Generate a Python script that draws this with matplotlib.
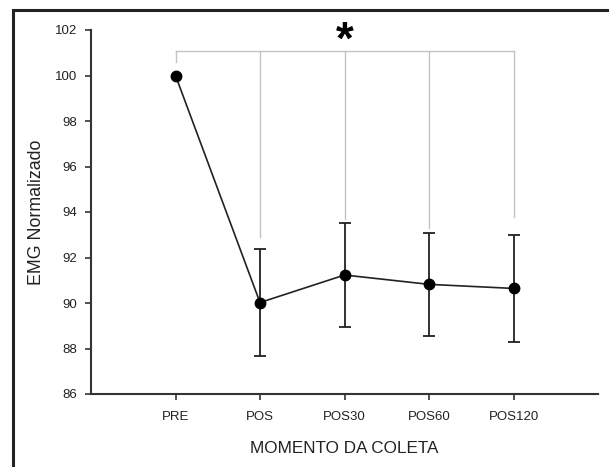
import matplotlib
matplotlib.use("Agg")
import matplotlib.pyplot as plt
from matplotlib.patches import Rectangle

categories = ["PRE", "POS", "POS30", "POS60", "POS120"]
means = [100.0, 90.02, 91.23, 90.82, 90.64]
errors = [0.0, 2.35, 2.28, 2.25, 2.36]
bracket_level = 101.08
bracket_ends = [100.6, 92.9, 93.7, 93.3, 93.8]
yticks = [86, 88, 90, 92, 94, 96, 98, 100, 102]

plt.rcParams['font.family'] = ['Liberation Sans', 'DejaVu Sans']

fig = plt.figure(figsize=(6.09, 4.67), dpi=100)
fig.patches.append(Rectangle((12.5/609, -0.1), 1.2, 1 - 10.0/467 + 0.1,
                             transform=fig.transFigure, fill=False,
                             edgecolor='#222222', linewidth=2.2, zorder=0))
ax = fig.add_axes([91/609, 1 - 394/467, (598 - 91)/609, (394 - 30)/467])

x = list(range(1, len(categories) + 1))

# significance bracket
gray = '#c4c4c4'
ax.plot([x[0], x[-1]], [bracket_level, bracket_level], color=gray, lw=1.0, zorder=1)
for xi, yend in zip(x, bracket_ends):
    ax.plot([xi, xi], [yend, bracket_level], color=gray, lw=1.0, zorder=1)
ax.text(x[2], 100.98, "*", ha='center', va='baseline', fontsize=33,
        fontweight='bold', color='black')

ax.errorbar(x[1:], means[1:], yerr=errors[1:], fmt='none', ecolor='#222222',
            elinewidth=1.3, capsize=4, capthick=1.3, zorder=2)
ax.plot(x, means, color='#222222', lw=1.2, marker='o', markersize=7.5,
        markerfacecolor='black', markeredgecolor='black', zorder=3)

ax.set_xlim(0, 6)
ax.set_ylim(86, 102)
ax.set_xticks(x)
ax.set_xticklabels(categories, fontsize=9.5, color='#222222')
ax.set_yticks(yticks)
ax.set_yticklabels([str(t) for t in yticks], fontsize=9.5, color='#222222')

for s in ['top', 'right']:
    ax.spines[s].set_visible(False)
for s in ['left', 'bottom']:
    ax.spines[s].set_linewidth(1.5)
    ax.spines[s].set_color('#333333')
ax.tick_params(axis='both', direction='out', length=4, width=1.2, color='#333333')
ax.tick_params(axis='x', pad=8)
ax.tick_params(axis='y', pad=6)

ax.set_xlabel("MOMENTO DA COLETA", fontsize=12.3, color='#222222', labelpad=13)
ax.set_ylabel("EMG Normalizado", fontsize=12.8, color='#222222', labelpad=7)

fig.savefig("out.png", dpi=100, facecolor='white')
